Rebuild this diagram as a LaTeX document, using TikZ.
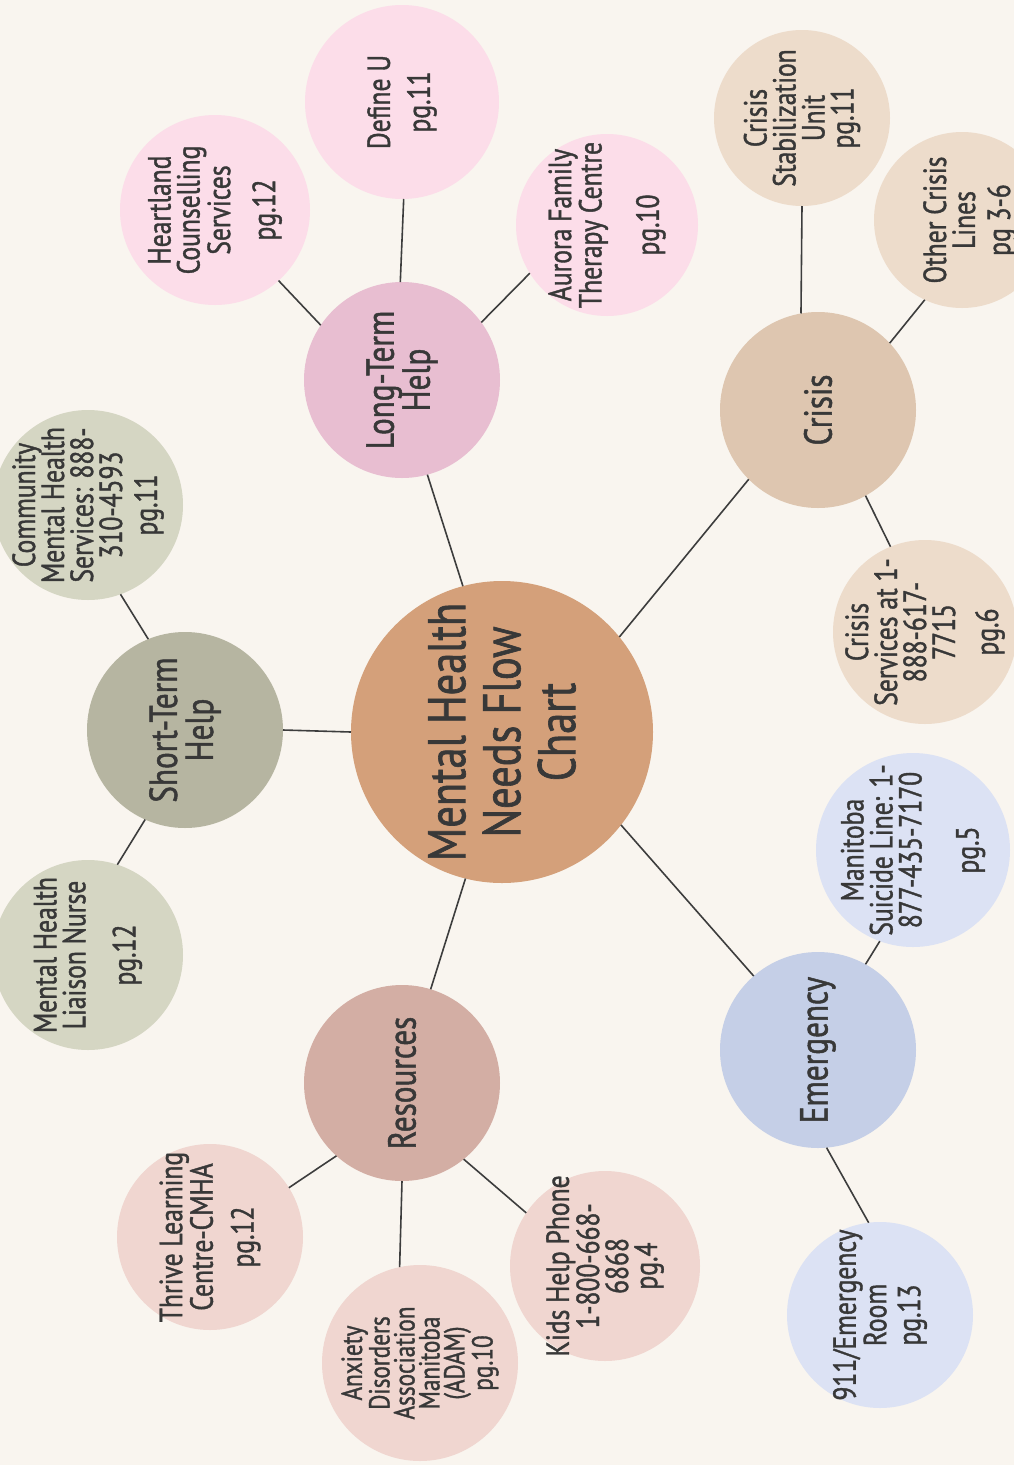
\documentclass[tikz,border=0pt]{standalone}
\usepackage{fontspec}
\setmainfont{PT Sans}[FakeStretch=0.8,FakeBold=1.2]
\definecolor{bg}{HTML}{F9F5EF}
\definecolor{txt}{HTML}{383838}
\definecolor{edge}{HTML}{3D3D3D}
\definecolor{cMain}{HTML}{D4A07A}
\definecolor{cShort}{HTML}{B6B5A1}
\definecolor{cShortL}{HTML}{D5D6C3}
\definecolor{cLong}{HTML}{E8BED1}
\definecolor{cLongL}{HTML}{FCDDE9}
\definecolor{cCrisis}{HTML}{DEC6B0}
\definecolor{cCrisisL}{HTML}{EDDCCB}
\definecolor{cEmerg}{HTML}{C5CFE7}
\definecolor{cEmergL}{HTML}{DCE2F4}
\definecolor{cRes}{HTML}{D3AEA4}
\definecolor{cResL}{HTML}{F0D6D0}
\tikzset{
  circ/.style={circle, inner sep=0pt, outer sep=0pt},
  lbl/.style={inner sep=0pt, text=txt, rotate=90, align=center},
  hubtext/.style={lbl, font=\fontsize{39}{36}\selectfont},
  leaftext/.style={lbl, font=\fontsize{32}{29}\selectfont},
  link/.style={draw=edge, line width=1.6pt}
}
\begin{document}
\begin{tikzpicture}[x=1pt,y=-1pt]
\clip (0,0) rectangle (1014,1465);
\fill[bg] (0,0) rectangle (1014,1465);
% circles
\node[circ, fill=cMain, minimum size=302pt] (main) at (502,732) {};
\node[circ, fill=cShort, minimum size=196pt] (short) at (185,730) {};
\node[circ, fill=cLong, minimum size=196pt] (long) at (402,380) {};
\node[circ, fill=cCrisis, minimum size=196pt] (crisis) at (818,410) {};
\node[circ, fill=cEmerg, minimum size=196pt] (emerg) at (818,1050) {};
\node[circ, fill=cRes, minimum size=196pt] (res) at (402,1083) {};
\node[circ, fill=cShortL, minimum size=190pt] (comm) at (88,505) {};
\node[circ, fill=cShortL, minimum size=190pt] (nurse) at (88,955) {};
\node[circ, fill=cLongL, minimum size=190pt] (heart) at (215,210) {};
\node[circ, fill=cLongL, minimum size=194pt] (defu) at (402,102) {};
\node[circ, fill=cLongL, minimum size=182pt] (aurora) at (607,225) {};
\node[circ, fill=cCrisisL, minimum size=176pt] (stab) at (802,118) {};
\node[circ, fill=cCrisisL, minimum size=176pt] (other) at (962,220) {};
\node[circ, fill=cCrisisL, minimum size=184pt] (csvc) at (925,632) {};
\node[circ, fill=cEmergL, minimum size=194pt] (suic) at (913,850) {};
\node[circ, fill=cEmergL, minimum size=186pt] (er) at (880,1315) {};
\node[circ, fill=cResL, minimum size=186pt] (thrive) at (210,1237) {};
\node[circ, fill=cResL, minimum size=196pt] (adam) at (420,1363) {};
\node[circ, fill=cResL, minimum size=190pt] (kids) at (605,1266) {};
% texts
\node[lbl, font=\fontsize{53}{55}\selectfont] (mainT) at (main) {Mental Health\\Needs Flow\\Chart};
\node[hubtext] (shortT) at (short) {Short-Term\\Help};
\node[hubtext] (longT) at (long) {Long-Term\\Help};
\node[hubtext] (crisisT) at (crisis) {Crisis};
\node[hubtext] (emergT) at (emerg) {Emergency};
\node[hubtext] (resT) at (res) {Resources};
\node[leaftext] (commT) at (comm) {Community\\Mental Health\\Services: 888-\\310-4593\\[6pt]pg.11};
\node[leaftext] (nurseT) at (nurse) {Mental Health\\Liaison Nurse\\[21pt]pg.12};
\node[leaftext] (heartT) at (heart) {Heartland\\Counselling\\Services\\[16pt]pg.12};
\node[leaftext] (defuT) at (defu) {Define U\\[11pt]pg.11};
\node[leaftext] (auroraT) at (aurora) {Aurora Family\\Therapy Centre\\[27pt]pg.10};
\node[leaftext] (stabT) at (stab) {Crisis\\Stabilization\\Unit\\pg.11};
\node[leaftext, anchor=north] (otherT) at ([xshift=-39pt]other.center) {Other Crisis\\Lines\\[6pt]pg 3-6};
\node[leaftext] (csvcT) at (csvc) {Crisis\\Services at 1-\\888-617-\\7715\\[14pt]pg.6};
\node[leaftext] (suicT) at (suic) {Manitoba\\Suicide Line: 1-\\877-435-7170\\[28pt]pg.5};
\node[leaftext] (erT) at (er) {911/Emergency\\Room\\[5pt]pg.13};
\node[leaftext] (thriveT) at (thrive) {Thrive Learning\\Centre-CMHA\\[12pt]pg.12};
\node[lbl, font=\fontsize{29}{25}\selectfont] (adamT) at (adam) {Anxiety\\Disorders\\Association\\Manitoba\\(ADAM)\\pg.10};
\node[leaftext] (kidsT) at (kids) {Kids Help Phone\\1-800-668-\\6868\\pg.4};
% connectors (border anchors, angles in degrees)
\draw[link] (main.180) -- (short.0);
\draw[link] (main.105) -- (long.285);
\draw[link] (main.39) -- (crisis.225);
\draw[link] (main.322) -- (emerg.131);
\draw[link] (main.256) -- (res.73);
\draw[link] (short.112) -- (comm.290);
\draw[link] (short.246) -- (nurse.72);
\draw[link] (long.146) -- (heart.312);
\draw[link] (long.91) -- (defu.271);
\draw[link] (long.36) -- (aurora.212);
\draw[link] (crisis.100) -- (stab.270);
\draw[link] (crisis.43) -- (other.245);
\draw[link] (crisis.299) -- (csvc.112);
\draw[link] (emerg.61) -- (suic.250);
\draw[link] (emerg.275) -- (er.97);
\draw[link] (res.228) -- (thrive.32);
\draw[link] (res.270) -- (adam.102);
\draw[link] (res.309) -- (kids.146);
\end{tikzpicture}
\end{document}
